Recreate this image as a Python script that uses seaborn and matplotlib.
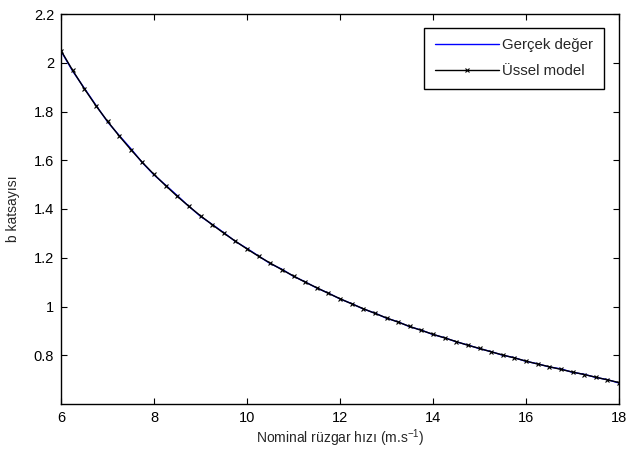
import matplotlib
matplotlib.use("Agg")
import matplotlib.pyplot as plt
import seaborn as sns
import pandas as pd

# Wind speed values (m/s)
x_vals = [6.0, 6.25, 6.5, 6.75, 7.0, 7.25, 7.5, 7.75, 8.0, 8.25, 8.5, 8.75,
          9.0, 9.25, 9.5, 9.75, 10.0, 10.25, 10.5, 10.75, 11.0, 11.25, 11.5, 11.75,
          12.0, 12.25, 12.5, 12.75, 13.0, 13.25, 13.5, 13.75, 14.0, 14.25, 14.5, 14.75,
          15.0, 15.25, 15.5, 15.75, 16.0, 16.25, 16.5, 16.75, 17.0, 17.25, 17.5, 17.75, 18.0]

# Real value (blue)
real_vals = [2.048, 1.966, 1.896, 1.826, 1.758, 1.702, 1.648, 1.590, 1.540, 1.498, 1.455, 1.411,
             1.370, 1.337, 1.303, 1.267, 1.238, 1.207, 1.176, 1.153, 1.124, 1.101, 1.076, 1.055,
             1.031, 1.012, 0.990, 0.973, 0.952, 0.937, 0.917, 0.903, 0.885, 0.872, 0.855, 0.842,
             0.827, 0.815, 0.800, 0.790, 0.775, 0.765, 0.752, 0.744, 0.730, 0.722, 0.709, 0.700, 0.686]

# Exponential model (black, x markers)
model_vals = [2.050, 1.969, 1.894, 1.824, 1.760, 1.700, 1.644, 1.591, 1.542, 1.496, 1.452, 1.411,
              1.372, 1.336, 1.301, 1.268, 1.236, 1.206, 1.178, 1.151, 1.125, 1.100, 1.077, 1.054,
              1.032, 1.011, 0.991, 0.972, 0.953, 0.936, 0.918, 0.902, 0.886, 0.871, 0.856, 0.841,
              0.828, 0.814, 0.801, 0.789, 0.776, 0.764, 0.753, 0.742, 0.731, 0.721, 0.710, 0.699, 0.688]

series_names = ["Gerçek değer", "Üssel model"]
x_ticks = [6, 8, 10, 12, 14, 16, 18]
y_ticks = [0.8, 1.0, 1.2, 1.4, 1.6, 1.8, 2.0, 2.2]
y_tick_labels = ["0.8", "1", "1.2", "1.4", "1.6", "1.8", "2", "2.2"]

sns.set_style("white")
plt.rcParams["font.family"] = ["Liberation Sans", "DejaVu Sans"]
plt.rcParams["mathtext.fontset"] = "custom"
plt.rcParams["mathtext.rm"] = "Liberation Sans"
plt.rcParams["mathtext.it"] = "Liberation Sans"

fig = plt.figure(figsize=(6.41, 4.54), dpi=100)
ax = fig.add_axes([61 / 641, 1 - 404 / 454, (619 - 61) / 641, (404 - 14) / 454])

df_real = pd.DataFrame({"x": x_vals, "y": real_vals})
df_model = pd.DataFrame({"x": x_vals, "y": model_vals})

sns.lineplot(data=df_real, x="x", y="y", ax=ax, color="#0000ff", linewidth=1.0,
             label=series_names[0], sort=False)
sns.lineplot(data=df_model, x="x", y="y", ax=ax, color="black", linewidth=1.0,
             marker="x", markersize=3.5, markeredgewidth=0.8, markeredgecolor="black",
             label=series_names[1], sort=False)

ax.set_xlim(6, 18)
ax.set_ylim(0.6, 2.2)
ax.set_xticks(x_ticks)
ax.set_xticklabels([str(t) for t in x_ticks])
ax.set_yticks(y_ticks)
ax.set_yticklabels(y_tick_labels)
ax.tick_params(axis="both", which="both", direction="in", length=4, width=0.8,
               top=True, right=True, bottom=True, left=True, labelsize=10.5, colors="black",
               pad=5)
for sp in ax.spines.values():
    sp.set_visible(True)
    sp.set_color("black")
    sp.set_linewidth(1.0)

ax.set_xlabel("Nominal rüzgar hızı (m.s$^{\\mathrm{-1}}$)", fontsize=10, labelpad=2)
ax.set_ylabel("b katsayısı", fontsize=10, labelpad=10)

leg = ax.legend(loc="upper right", bbox_to_anchor=(0.9725, 0.965), fontsize=10.8,
                frameon=True, fancybox=False, edgecolor="black", framealpha=1,
                handlelength=4.3, numpoints=1, borderpad=0.7, labelspacing=0.8,
                handletextpad=0.2, borderaxespad=0)
leg.get_frame().set_linewidth(1.0)

fig.savefig("out.png", dpi=100)
